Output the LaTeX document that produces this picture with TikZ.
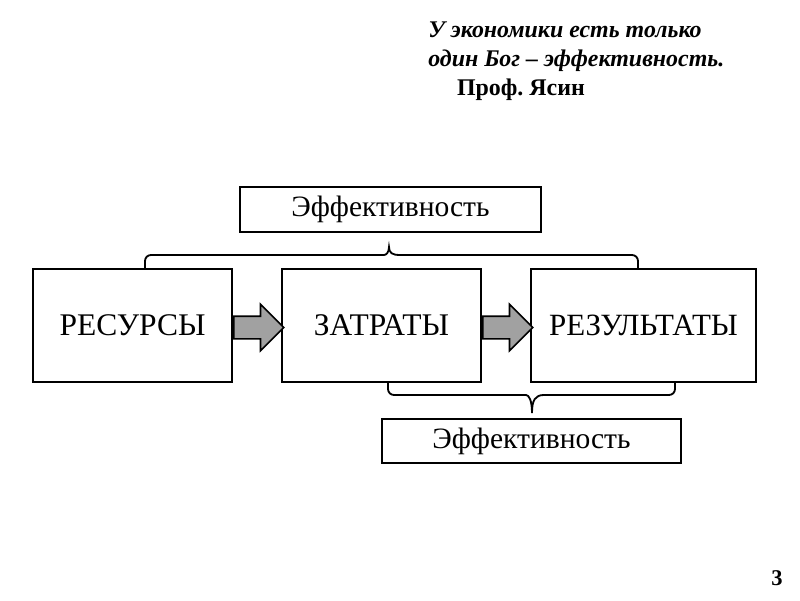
\documentclass[tikz,border=0pt]{standalone}
\usepackage{fontspec}
\setmainfont{Liberation Serif}
\usetikzlibrary{shapes.arrows}

\begin{document}
\begin{tikzpicture}[
    block/.style={rectangle, draw, line width=1.4pt, minimum width=4.975cm, minimum height=2.825cm, font=\fontsize{22.4}{26}\selectfont},
    effbox/.style={rectangle, draw, line width=1.4pt, minimum width=7.5cm, minimum height=1.125cm, font=\fontsize{21}{25}\selectfont},
    fatarrow/.style={single arrow, draw, line width=1.1pt, fill=black!37, minimum height=1.25cm, single arrow head extend=0.3cm, minimum width=1.125cm, inner sep=0.2625cm, anchor=tail},
    bracket/.style={draw, line width=1.3pt}]
    \useasboundingbox (0,0) rectangle (20,15);
    % quote
    \node (quote) at (10.7,14.45) [anchor=north west, align=left, inner sep=0pt, font=\fontsize{17}{20.5}\selectfont\bfseries]
        {\itshape У экономики есть только\\ \itshape один Бог – эффективность.\\ \hspace*{0.72cm}Проф.\ Ясин};
    % main chain
    \node (res) at (3.3125,6.8625) [block] {РЕСУРСЫ};
    \node (zat) at (9.5375,6.8625) [block] {ЗАТРАТЫ};
    \node (rez) at (16.0875,6.8625) [block, minimum width=5.625cm, font=\fontsize{22}{26}\selectfont] {РЕЗУЛЬТАТЫ};
    \node (a1) at ([yshift=-0.05cm]res.east) [fatarrow] {};
    \node (a2) at ([yshift=-0.05cm]zat.east) [fatarrow] {};
    % efficiency boxes
    \node (efftop) at (9.7625,9.7625) [effbox, minimum width=7.525cm] {Эффективность};
    \node (effbot) at (13.2875,3.975) [effbox, minimum width=7.475cm, minimum height=1.1cm] {Эффективность};
    % braces
    \coordinate (bt1) at (3.625,8.3);
    \coordinate (bt2) at (15.95,8.3);
    \coordinate (bb1) at (9.7,5.425);
    \coordinate (bb2) at (16.875,5.425);
    \draw[bracket] (bt1) [rounded corners=0.15cm] |- (9.45,8.625) [sharp corners]
        .. controls (9.65,8.625) and (9.725,8.68) .. (9.725,8.825)
        .. controls (9.725,8.68) and (9.8,8.625) .. (10.0,8.625) [rounded corners=0.15cm] -| (bt2);
    \draw[bracket] (bb1) [rounded corners=0.15cm] |- (13.0,5.125) [sharp corners]
        .. controls (13.22,5.125) and (13.3,5.0) .. (13.3,4.675)
        .. controls (13.3,5.0) and (13.38,5.125) .. (13.6,5.125) [rounded corners=0.15cm] -| (bb2);
    % page number
    \node (page) at (19.425,0.55) [font=\fontsize{16}{19}\selectfont\bfseries] {3};
\end{tikzpicture}
\end{document}
